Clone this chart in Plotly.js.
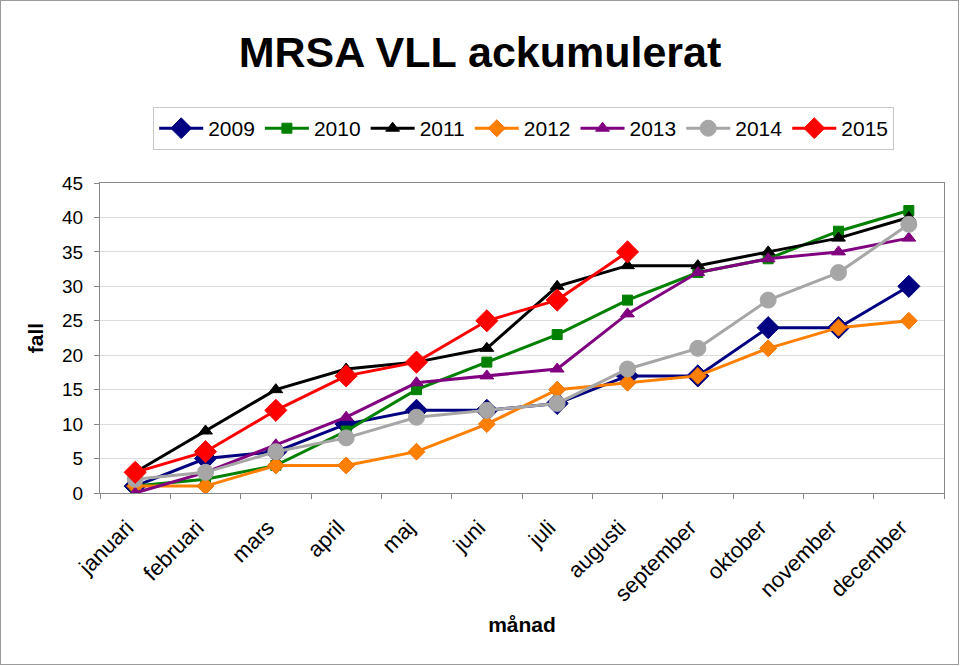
<!DOCTYPE html>
<html>
<head>
<meta charset="utf-8">
<script src="https://cdn.plot.ly/plotly-3.0.1.min.js"></script>
<style>
html,body{margin:0;padding:0;background:#fff;}
#wrap{position:relative;width:960px;height:666px;}
#chart{width:960px;height:666px;}
#frame{position:absolute;left:0;top:0;width:957px;height:663px;border:1px solid #9a9a9a;pointer-events:none;}
</style>
</head>
<body>
<div id="wrap"><div id="chart"></div><div id="frame"></div></div>
<script>
const months = ["januari","februari","mars","april","maj","juni","juli","augusti","september","oktober","november","december"];
const y2009 = [1,5,6,10,12,12,13,17,17,24,24,30];
const y2010 = [1,2,4,9,15,19,23,28,32,34,38,41];
const y2011 = [3,9,15,18,19,21,30,33,33,35,37,40];
const y2012 = [1,1,4,4,6,10,15,16,17,21,24,25];
const y2013 = [0,3,7,11,16,17,18,26,32,34,35,37];
const y2014 = [2,3,6,8,11,12,13,18,21,28,32,39];
const y2015 = [3,6,12,17,19,25,28,35];

function tr(name, y, color, symbol, size, lineColor) {
  return {
    type: "scatter", mode: "lines+markers", name: name,
    x: months.slice(0, y.length), y: y,
    line: {color: color, width: 3},
    marker: {symbol: symbol, size: size, color: color,
             line: {color: lineColor || color, width: 1}}
  };
}

const data = [
  tr("2009", y2009, "#000080", "diamond", 17),
  tr("2010", y2010, "#008000", "square", 10),
  tr("2011", y2011, "#000000", "triangle-up", 12),
  tr("2012", y2012, "#FF8000", "diamond", 13, "#F07000"),
  tr("2013", y2013, "#800080", "triangle-up", 12),
  tr("2014", y2014, "#A6A6A6", "circle", 16),
  tr("2015", y2015, "#FF0000", "diamond", 17)
];

const layout = {
  width: 960, height: 666,
  margin: {l: 100, r: 16, t: 183, b: 173},
  paper_bgcolor: "#fff", plot_bgcolor: "#fff",
  font: {family: "Liberation Sans, Arial, sans-serif", color: "#000", size: 19},
  title: {text: "<b>MRSA VLL ackumulerat</b>", font: {size: 43, color: "#000"},
          x: 0.5, xanchor: "center", y: 0.922, yanchor: "middle"},
  showlegend: true,
  legend: {orientation: "h", x: 0.502, xanchor: "center", y: 1.245, yanchor: "top",
           bordercolor: "#c8c8c8", borderwidth: 1, font: {size: 21},
           itemwidth: 44, tracegroupgap: 0},
  xaxis: {
    type: "category", categoryarray: months, range: [-0.5, 11.5],
    showline: true, linecolor: "#888", linewidth: 1, mirror: true,
    showgrid: false, zeroline: false,
    ticks: "outside", ticklen: 5, tickcolor: "#888", tickson: "boundaries",
    tickangle: -45, tickfont: {size: 22},
    ticklabelstandoff: 12, ticklabelshift: -8,
    title: {text: "<b>månad</b>", font: {size: 21}, standoff: 12}
  },
  yaxis: {
    range: [0, 45], dtick: 5, tick0: 0,
    showline: true, linecolor: "#888", linewidth: 1, mirror: true,
    showgrid: true, gridcolor: "#dcdcdc", gridwidth: 1, zeroline: false,
    ticks: "outside", ticklen: 5, tickcolor: "#888", tickfont: {size: 19},
    ticklabelstandoff: 7,
    title: {text: "<b>fall</b>", font: {size: 21}, standoff: 12}
  }
};

Plotly.newPlot("chart", data, layout, {displayModeBar: false, staticPlot: true});
</script>
</body>
</html>
